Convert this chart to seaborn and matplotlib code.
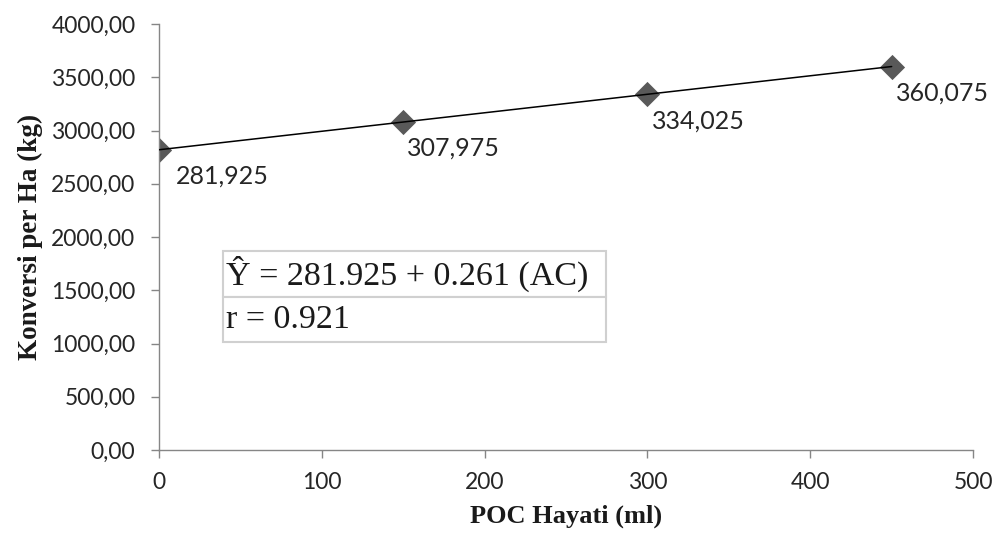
import matplotlib
matplotlib.use("Agg")
import matplotlib.pyplot as plt
import seaborn as sns
import pandas as pd
from matplotlib.ticker import FuncFormatter

# Data
poc_ml = [0, 150, 300, 450]
konversi_kg = [2819.25, 3079.75, 3340.25, 3600.75]
point_labels = ["281,925", "307,975", "334,025", "360,075"]
x_ticks = [0, 100, 200, 300, 400, 500]
y_ticks = [0, 500, 1000, 1500, 2000, 2500, 3000, 3500, 4000]
equation_rows = ["Ŷ = 281.925 + 0.261 (AC)", "r = 0.921"]

df = pd.DataFrame({"x": poc_ml, "y": konversi_kg})

sns.set_theme(style="white")
plt.rcParams["font.family"] = ["Lato", "DejaVu Sans"]

fig = plt.figure(figsize=(9.98, 5.42), dpi=100)
ax = fig.add_axes([0.1593, 0.1697, 0.8157, 0.786])

sns.scatterplot(data=df, x="x", y="y", marker="D", s=165, color="#595959",
                edgecolor="#595959", linewidth=0, ax=ax, zorder=2)
sns.lineplot(data=df, x="x", y="y", color="black", linewidth=1.1, ax=ax, zorder=3)

label_dx = [12, 3, 3, 3]
for xv, yv, lab, dx in zip(poc_ml, konversi_kg, point_labels, label_dx):
    ax.annotate(lab, (xv, yv), xytext=(dx, -19), textcoords="offset points",
                ha="left", va="center", fontsize=18, color="#262626", zorder=4)

ax.set_xlim(0, 500)
ax.set_ylim(0, 4000)
ax.set_xticks(x_ticks)
ax.set_yticks(y_ticks)
ax.yaxis.set_major_formatter(FuncFormatter(lambda v, p: f"{v:.2f}".replace(".", ",")))

for s in ["top", "right"]:
    ax.spines[s].set_visible(False)
for s in ["left", "bottom"]:
    ax.spines[s].set_color("#868686")
    ax.spines[s].set_linewidth(1.0)
ax.tick_params(axis="both", which="major", direction="out", length=6, width=1,
               color="#868686", labelsize=16.5, labelcolor="#262626", bottom=True, left=True)
ax.tick_params(axis="y", pad=11)
ax.tick_params(axis="x", pad=10)

ax.set_xlabel("POC Hayati (ml)", fontsize=19, fontweight="bold",
              family="Liberation Serif", color="#1a1a1a", labelpad=8)
ax.set_ylabel("Konversi per Ha (kg)", fontsize=19.5, fontweight="bold",
              family="Liberation Serif", color="#1a1a1a", labelpad=6)

tbl = ax.table(cellText=[[r] for r in equation_rows], cellLoc="left",
               bbox=[0.0786, 0.2535, 0.471, 0.2136])
tbl.auto_set_font_size(False)
for (i, j), cell in tbl.get_celld().items():
    cell.set_edgecolor("#d0d0d0")
    cell.set_linewidth(1.5)
    cell.set_facecolor("white")
    cell.PAD = 0.008
    cell.get_text().set_fontsize(24.5)
    cell.get_text().set_fontfamily("Liberation Serif")
    cell.get_text().set_color("#1a1a1a")

fig.savefig("out.png", dpi=100)
